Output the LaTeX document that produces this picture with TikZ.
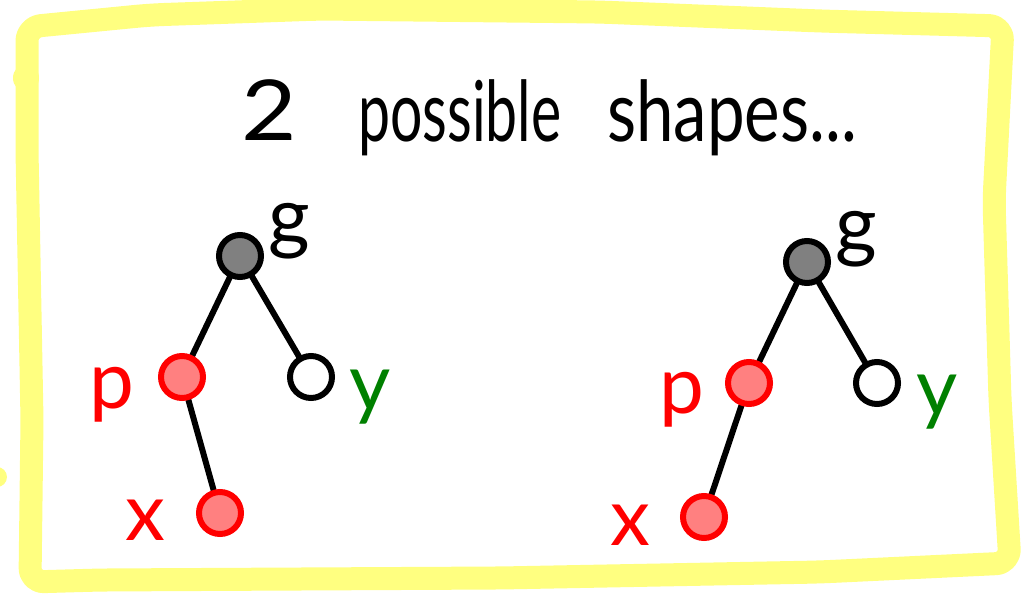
\documentclass[tikz,border=0pt]{standalone}
\usepackage{fontspec}
\setmainfont{Lato}
\definecolor{frameyellow}{HTML}{FFFF80}
\definecolor{nodegray}{HTML}{808080}
\definecolor{nodepink}{HTML}{FF8080}
\definecolor{lblgreen}{HTML}{008000}
\pgfdeclarelayer{bg}
\pgfsetlayers{bg,main}
\tikzset{
  tnode/.style={circle, minimum size=42pt, inner sep=0pt, line width=6pt},
  graynode/.style={tnode, draw=black, fill=nodegray},
  rednode/.style={tnode, draw=red, fill=nodepink},
  whitenode/.style={tnode, draw=black, fill=white},
  treeedge/.style={line width=6pt, line cap=round, black},
  lbl/.style={anchor=base, inner sep=0pt, font=\fontsize{80}{90}\selectfont},
  ttl/.style={anchor=base west, inner sep=0pt, font=\fontsize{84}{96}\selectfont},
  framestroke/.style={draw=frameyellow, line width=23pt, line join=round, line cap=round}
}
\begin{document}
\begin{tikzpicture}[x=1pt,y=-1pt]
\useasboundingbox (0,0) rectangle (1025,594);
% frame
\draw[framestroke, rounded corners=14pt] (27,27) -- (150,15) -- (320,9) -- (600,12) -- (820,21) -- (1003,26) -- (994,200) -- (1000,400) -- (1010,563) -- (820,572) -- (500,578) -- (100,580) -- (30,582) -- (32,420) -- (27,150) -- cycle;
\fill[frameyellow] (26,78) ellipse [x radius=13pt, y radius=14pt];
\fill[frameyellow] (-3,477) circle [radius=10pt];
% title
\node[ttl] (t1) at (241,140) {\scalebox{1.14}[1]{2}};
\node[ttl] (t2) at (358,141) {\scalebox{0.68}[1]{possible}};
\node[ttl] (t3) at (607,141) {\scalebox{0.8}[1]{shapes...}};
% left tree
\node[graynode] (g1) at (240,256) {};
\node[rednode] (p1) at (182,377) {};
\node[whitenode] (y1) at (311,377) {};
\node[rednode] (x1) at (220,513) {};
% right tree
\node[graynode] (g2) at (807,262) {};
\node[rednode] (p2) at (749,383) {};
\node[whitenode] (y2) at (877,383) {};
\node[rednode] (x2) at (704,517) {};
\begin{pgfonlayer}{bg}
\draw[treeedge] (g1) -- (p1);
\draw[treeedge] (g1) -- (y1);
\draw[treeedge] (p1) -- (x1);
\draw[treeedge] (g2) -- (p2);
\draw[treeedge] (g2) -- (y2);
\draw[treeedge] (p2) -- (x2);
\end{pgfonlayer}
% labels
\node[lbl] (lg1) at (289,244) {g};
\node[lbl, text=red] (lp1) at (112,408) {p};
\node[lbl, text=lblgreen] (ly1) at (370,410) {y};
\node[lbl, text=red] (lx1) at (145,540) {x};
\node[lbl] (lg2) at (856,252) {g};
\node[lbl, text=red] (lp2) at (682,413) {p};
\node[lbl, text=lblgreen] (ly2) at (937,415) {y};
\node[lbl, text=red] (lx2) at (630,545) {x};
\end{tikzpicture}
\end{document}
